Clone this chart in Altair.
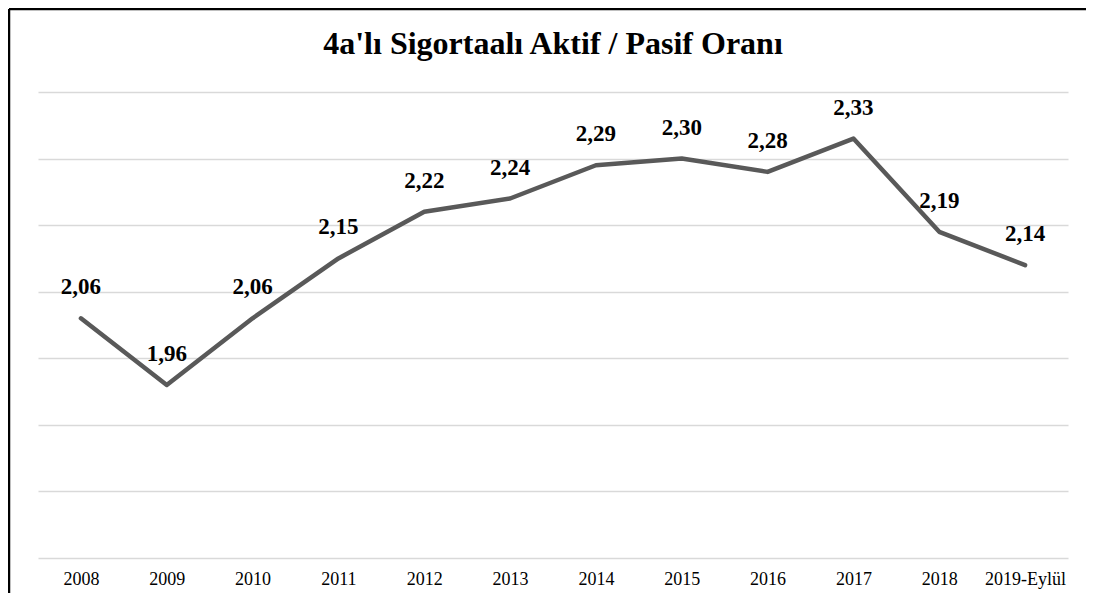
import altair as alt
import pandas as pd

years = ["2008", "2009", "2010", "2011", "2012", "2013", "2014", "2015", "2016", "2017", "2018", "2019-Eylül"]
ratios = [2.06, 1.96, 2.06, 2.15, 2.22, 2.24, 2.29, 2.30, 2.28, 2.33, 2.19, 2.14]
labels = [f"{v:.2f}".replace(".", ",") for v in ratios]
title_text = "4a'lı Sigortaalı Aktif / Pasif Oranı"
grid_values = [1.7, 1.8, 1.9, 2.0, 2.1, 2.2, 2.3, 2.4]

df = pd.DataFrame({"year": years, "ratio": ratios, "label": labels})

W, H = 1030, 466
FONT = "Liberation Serif"

x = alt.X("year:N", sort=years, title=None,
          scale=alt.Scale(type="point", padding=0.5),
          axis=alt.Axis(labelAngle=0, ticks=False, domain=False, grid=False,
                        labelFont=FONT, labelFontSize=18, labelColor="#000000",
                        labelPadding=12))
y = alt.Y("ratio:Q", title=None,
          scale=alt.Scale(domain=[1.7, 2.4], nice=False, zero=False),
          axis=alt.Axis(values=grid_values, labels=False, ticks=False, domain=False,
                        grid=True, gridColor="#d9d9d9", gridWidth=1.5))

base = alt.Chart(df)
line = base.mark_line(color="#595959", strokeWidth=4.5, strokeCap="round",
                      strokeJoin="round").encode(x=x, y=y)
text = base.mark_text(dy=-31, fontSize=23, fontWeight="bold", font=FONT,
                      color="#000000").encode(x=x, y=y, text="label:N")

one = alt.Chart(pd.DataFrame({"a": [0]}))
title = one.mark_text(fontSize=32, fontWeight="bold", font=FONT, color="#000000",
                      baseline="middle", align="center").encode(
    x=alt.value(W / 2), y=alt.value(-48), text=alt.value(title_text))
frame_left = one.mark_rule(color="#000000", strokeWidth=2.5).encode(
    x=alt.value(-29), y=alt.value(-83), y2=alt.value(501))
frame_top = one.mark_rule(color="#000000", strokeWidth=2.5).encode(
    x=alt.value(-29), x2=alt.value(1048), y=alt.value(-83))

chart = alt.layer(line, text, title, frame_left, frame_top).properties(
    width=W, height=H,
    background="#ffffff",
    autosize=alt.AutoSizeParams(type="none"),
    padding={"left": 30, "top": 84, "right": 18, "bottom": 35},
).configure_view(strokeWidth=0, stroke="transparent")

chart.save("out.html", embed_options={"renderer": "svg", "actions": False})
